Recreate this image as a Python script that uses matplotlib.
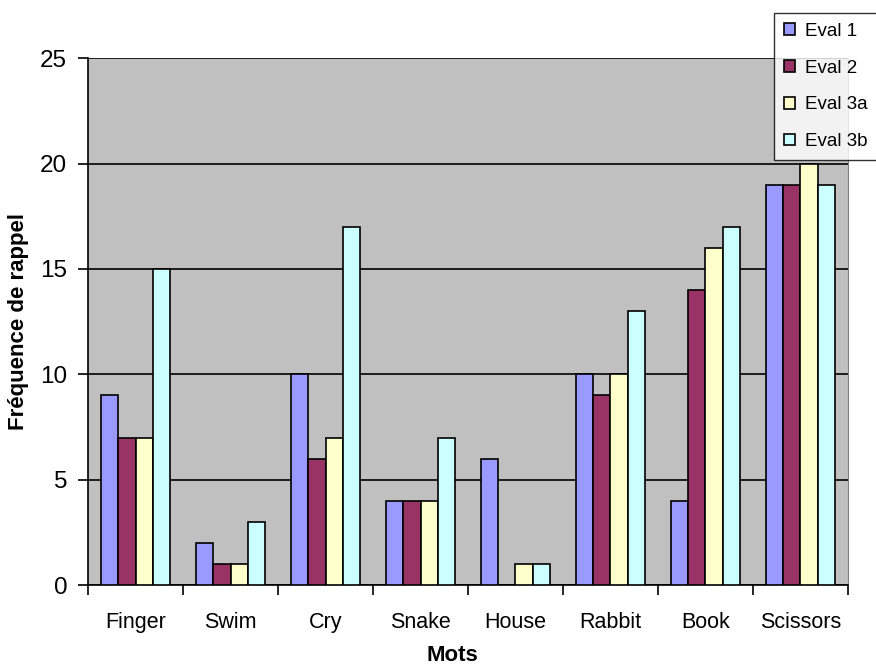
import numpy as np
import matplotlib.pyplot as plt

plt.rcParams['font.family'] = ['Liberation Sans', 'DejaVu Sans']

mots = ['Finger', 'Swim', 'Cry', 'Snake', 'House', 'Rabbit', 'Book', 'Scissors']
series = ['Eval 1', 'Eval 2', 'Eval 3a', 'Eval 3b']
eval1 = [9, 2, 10, 4, 6, 10, 4, 19]
eval2 = [7, 1, 6, 4, 0, 9, 14, 19]
eval3a = [7, 1, 7, 4, 1, 10, 16, 20]
eval3b = [15, 3, 17, 7, 1, 13, 17, 19]
colors = ['#9999FF', '#993366', '#FFFFCC', '#CCFFFF']

fig = plt.figure(figsize=(8.76, 6.68), dpi=100)
ax = fig.add_axes([0.1005, 0.124, 0.8675, 0.789])
ax.set_facecolor('#C0C0C0')

x = np.arange(len(mots))
w = 0.18
for i, (vals, name) in enumerate(zip([eval1, eval2, eval3a, eval3b], series)):
    ax.bar(x + (i - 1.5) * w, vals, w, color=colors[i], edgecolor='black',
           linewidth=1.2, label=name, zorder=3)

ax.set_xlim(-0.5, len(mots) - 0.5)
ax.set_ylim(0, 25)
ax.set_yticks(range(0, 26, 5))
ax.yaxis.grid(True, color='black', linewidth=1.2, zorder=1)
ax.set_axisbelow(True)

ax.set_xticks(x)
ax.set_xticklabels(mots, fontsize=15.5)
ax.tick_params(axis='x', length=0, pad=19)
ax.set_xticks(np.arange(-0.5, len(mots), 1), minor=True)
ax.tick_params(axis='x', which='minor', length=7, width=1.2, direction='out')
ax.tick_params(axis='y', labelsize=17.5, length=7, width=1.2, direction='out', pad=8)

ax.spines['top'].set_visible(False)
ax.spines['right'].set_color('#808080')
ax.spines['left'].set_linewidth(1.2)
ax.spines['bottom'].set_linewidth(1.2)

ax.set_xlabel('Mots', fontsize=16, fontweight='bold')
ax.xaxis.set_label_coords(0.48, -0.114)
ax.set_ylabel('Fréquence de rappel', fontsize=16, fontweight='bold', labelpad=8)

leg = fig.legend(loc='upper right', bbox_to_anchor=(1.002, 0.981), fontsize=13.5,
                 frameon=True, fancybox=False, edgecolor='black',
                 handlelength=0.6, handleheight=0.6, handletextpad=0.5,
                 labelspacing=1.05, borderpad=0.55, borderaxespad=0)
leg.get_frame().set_linewidth(1.0)
leg.get_frame().set_facecolor('white')

plt.savefig('out.png', dpi=100)
